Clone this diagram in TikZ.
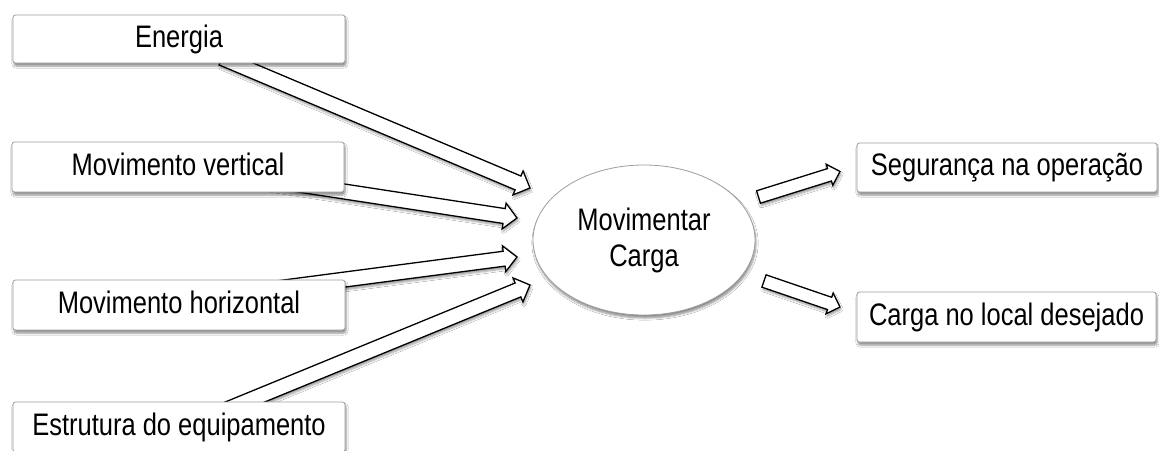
\documentclass[tikz,border=0pt]{standalone}
\usepackage{graphicx}
\usepackage{fontspec}
\setmainfont{Liberation Sans}
\usetikzlibrary{calc,shapes.geometric,shadows.blur}
\pgfdeclarelayer{bg}
\pgfsetlayers{bg,main}
\newcommand\vs[1]{\scalebox{1}[1.22]{#1}}
\newcommand\blockarr[5]{%
  \coordinate (nk) at ($(#2)!#5!(#1)$);
  \draw[blockarrow] ($(#1)!#3!90:(#2)$) -- ($(nk)!#3!90:(#2)$) -- ($(nk)!#4!90:(#2)$)
    -- (#2) -- ($(nk)!#4!-90:(#2)$) -- ($(nk)!#3!-90:(#2)$) -- ($(#1)!#3!-90:(#2)$) -- cycle;}
\tikzset{
  box/.style={draw=black!38, line width=0.8pt, fill=white, rounded corners=2.5pt,
    minimum width=332pt, minimum height=49pt, inner sep=0pt,
    text height=22.5pt, text depth=6.5pt,
    font=\fontsize{25.5}{30}\selectfont,
    blur shadow={shadow xshift=1pt, shadow yshift=-3pt, shadow blur steps=6, shadow opacity=45}},
  ellbox/.style={ellipse, draw=black!38, line width=0.8pt, fill=white,
    minimum width=222pt, minimum height=150pt, inner sep=0pt, align=center,
    font=\fontsize{25.5}{36}\selectfont,
    blur shadow={shadow xshift=1pt, shadow yshift=-3pt, shadow blur steps=6, shadow opacity=45}},
  blockarrow/.style={draw=black, line width=1.3pt, fill=white, line join=miter,
    blur shadow={shadow xshift=1pt, shadow yshift=-2.5pt, shadow blur steps=5, shadow opacity=40}}
}
\begin{document}
\begin{tikzpicture}[x=1pt,y=-1pt]
\useasboundingbox (0,0) rectangle (1159,450);
\clip (0,0) rectangle (1159,450);
% nodes
\node[box, minimum height=48pt] (en) at (179,39) {\vs{Energia}};
\node[box, minimum height=50pt] (mv) at (178,167) {\vs{Movimento vertical}};
\node[box, minimum height=50pt] (mh) at (179,305) {\vs{Movimento horizontal}};
\node[box, minimum height=50pt] (es) at (179,427) {\vs{Estrutura do equipamento}};
\node[ellbox] (mc) at (644,240) {\vs{Movimentar}\\\vs{Carga}};
\node[box, minimum width=300pt, minimum height=49pt] (sg) at (1007,167.5) {\vs{Segurança na operação}};
\node[box, minimum width=299pt, minimum height=50pt] (cl) at (1006.5,317) {\vs{Carga no local desejado}};
% arrow end points
\coordinate (e0) at (222,58);    \coordinate (e1) at (530,188);
\coordinate (v0) at (260,178.6); \coordinate (v1) at (517,218);
\coordinate (h0) at (280,288);   \coordinate (h1) at (517,257);
\coordinate (s0) at (223,411);   \coordinate (s1) at (530,285);
\coordinate (r0) at (758.5,197); \coordinate (r1) at (840,171.5);
\coordinate (q0) at (764,281);   \coordinate (q1) at (840,307);
\begin{pgfonlayer}{bg}
\fill[white] (0,0) rectangle (1159,450);
\blockarr{e0}{e1}{7.5pt}{13pt}{13pt}
\blockarr{v0}{v1}{7.5pt}{13pt}{13pt}
\blockarr{h0}{h1}{7.5pt}{13pt}{13pt}
\blockarr{s0}{s1}{7.5pt}{13pt}{13pt}
\blockarr{r0}{r1}{6.5pt}{11pt}{11pt}
\blockarr{q0}{q1}{6.5pt}{11pt}{11pt}
\end{pgfonlayer}
\end{tikzpicture}
\end{document}
